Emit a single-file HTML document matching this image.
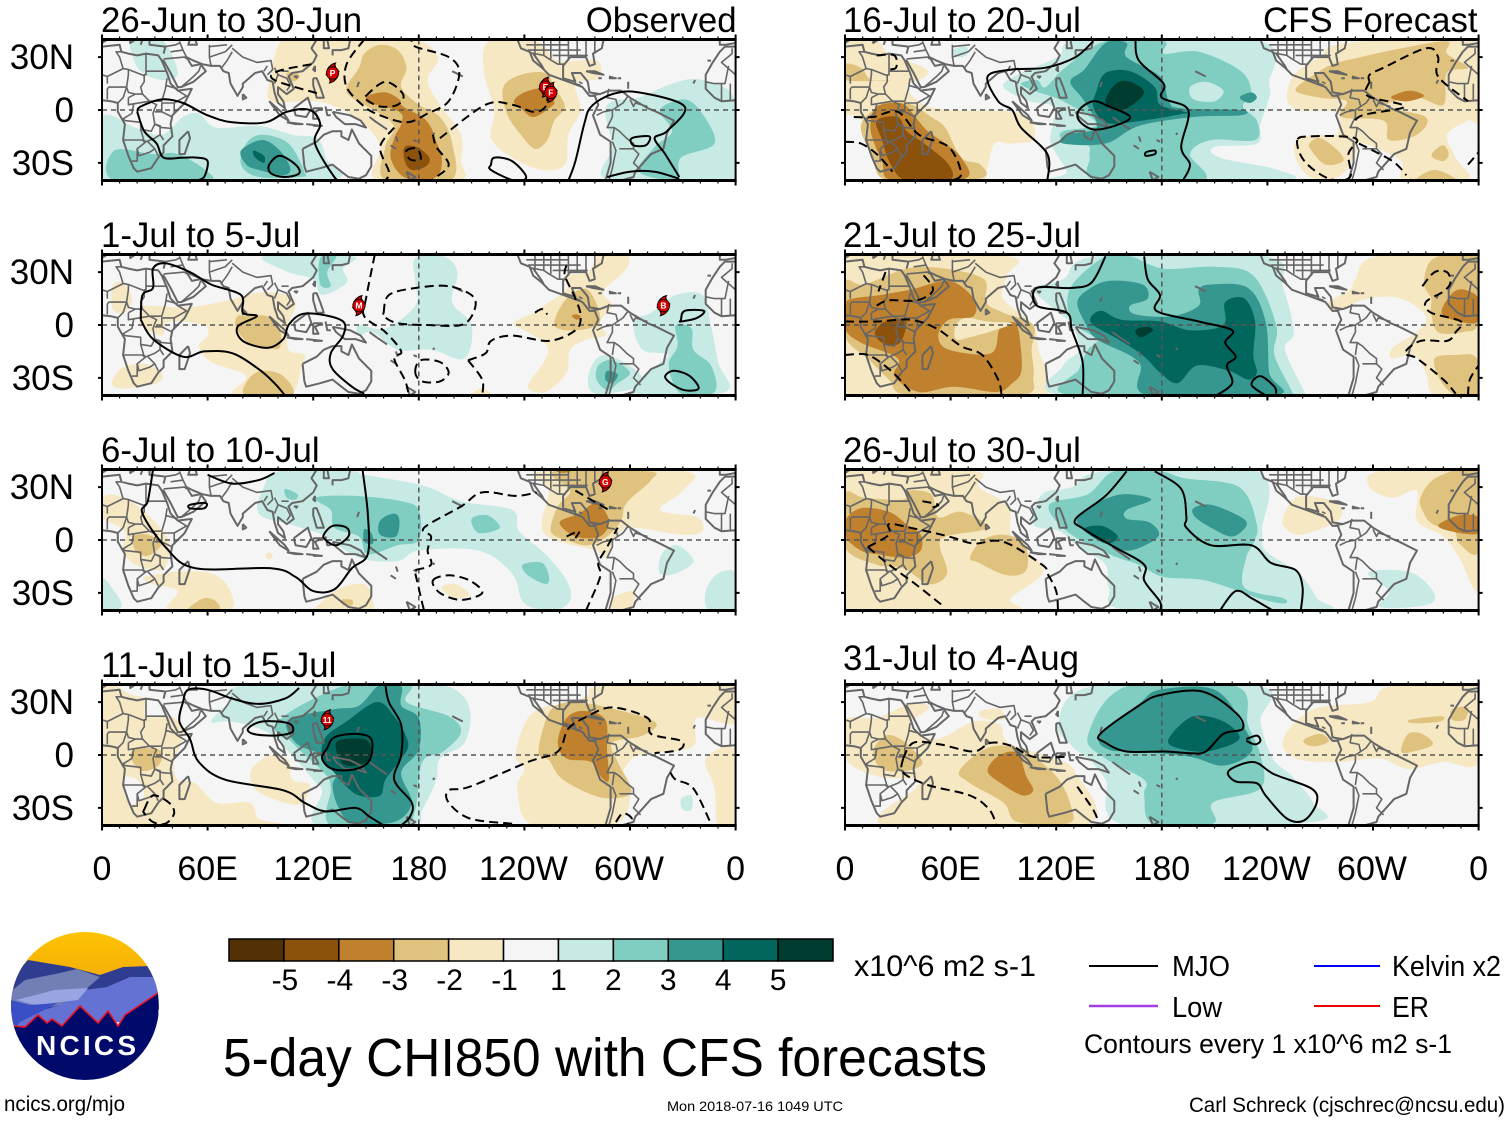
<!DOCTYPE html>
<html lang="en">
<head>
<meta charset="utf-8">
<title>5-day CHI850 with CFS forecasts</title>
<style>
html,body{margin:0;padding:0;background:#fff;}
svg{display:block;font-family:"Liberation Sans",sans-serif;}
</style>
</head>
<body>
<svg id="chart" xmlns="http://www.w3.org/2000/svg" width="1510" height="1121" viewBox="0 0 1510 1121">
  <rect width="1510" height="1121" fill="#fff"/>
  <g id="panels"></g>
  <g id="colorbar"></g>

  <g>
    <defs><clipPath id="logoClip"><circle cx="85" cy="1006" r="74"/></clipPath>
    <linearGradient id="sky" x1="0" y1="0" x2="0" y2="1"><stop offset="0" stop-color="#ffc400"/><stop offset="1" stop-color="#f0a80a"/></linearGradient></defs>
    <g clip-path="url(#logoClip)">
      <rect x="10" y="930" width="150" height="60" fill="url(#sky)"/>
      <path fill="#2f3d90" d="M10 980 L28 960 L70 967 L100 975 L123 967 L150 966 L160 985 L160 1010 L10 1010Z"/>
      <path fill="#717fb4" d="M10 992 L25 980 L60 973 L77 969 L100 977 L85 990 L60 1005 L10 1015Z"/>
      <path fill="#6472d4" d="M85 990 L107 987 L130 977 L157 977 L160 990 L160 1000 L120 1022 L60 1025 L10 1040 L10 1020 L60 1005Z"/>
      <path fill="#99a5e2" d="M16 1000 L55 990 L88 988 L78 1000 L35 1005Z"/>
      <path fill="#3a4ec6" d="M10 1000 L30 1005 L58 1003 L20 1022 L14 1030 L10 1030Z"/>
      <path fill="#000a6a" d="M10 1026 L25 1027 L38 1015 L47 1023 L52 1019 L62 1026 L80 1006 L98 1023 L108 1011 L118 1026 L125 1015 L158 993 L160 1090 L10 1090Z"/>
      <path fill="none" stroke="#ee1122" stroke-width="1.6" d="M14 1026 L25 1027 L38 1015 L47 1023 L52 1019 L62 1026 L80 1006 L98 1023 L108 1011 L118 1026 L125 1015 L158 993"/>
      <text x="86" y="1055" text-anchor="middle" font-size="28" font-weight="700" fill="#fff" textLength="100" lengthAdjust="spacing">NCICS</text>
    </g>
  </g>

  <text x="223" y="1076" font-size="54" textLength="764" lengthAdjust="spacingAndGlyphs">5-day CHI850 with CFS forecasts</text>
  <text x="854" y="976" font-size="30" textLength="182" lengthAdjust="spacingAndGlyphs">x10^6 m2 s-1</text>

  <g>
    <line x1="1089" x2="1158" y1="966" y2="966" stroke="#000" stroke-width="2"/>
    <text x="1172" y="976" font-size="29" textLength="58" lengthAdjust="spacingAndGlyphs">MJO</text>
    <line x1="1314" x2="1380" y1="966" y2="966" stroke="#0000ee" stroke-width="2"/>
    <text x="1392" y="976" font-size="29" textLength="109" lengthAdjust="spacingAndGlyphs">Kelvin x2</text>
    <line x1="1089" x2="1158" y1="1006" y2="1006" stroke="#a040e0" stroke-width="2.5"/>
    <text x="1172" y="1017" font-size="29" textLength="50" lengthAdjust="spacingAndGlyphs">Low</text>
    <line x1="1314" x2="1380" y1="1006" y2="1006" stroke="#ee0000" stroke-width="2"/>
    <text x="1392" y="1017" font-size="29" textLength="37" lengthAdjust="spacingAndGlyphs">ER</text>
    <text x="1084" y="1053" font-size="27" textLength="368" lengthAdjust="spacingAndGlyphs">Contours every 1 x10^6 m2 s-1</text>
  </g>

  <text x="4" y="1111" font-size="21" textLength="121" lengthAdjust="spacingAndGlyphs">ncics.org/mjo</text>
  <text x="667" y="1111" font-size="14" textLength="176" lengthAdjust="spacingAndGlyphs">Mon 2018-07-16 1049 UTC</text>
  <text x="1189" y="1112" font-size="21" textLength="316" lengthAdjust="spacingAndGlyphs">Carl Schreck (cjschrec@ncsu.edu)</text>
</svg>

<script>
// ---------- chart data ----------
const panelTitles = ['26-Jun to 30-Jun','1-Jul to 5-Jul','6-Jul to 10-Jul','11-Jul to 15-Jul','16-Jul to 20-Jul','21-Jul to 25-Jul','26-Jul to 30-Jul','31-Jul to 4-Aug'];
const xTickValues = [0,60,120,180,240,300,360];
const xTickLabels = ['0','60E','120E','180','120W','60W','0'];
const yTickValues = [30,0,-30];
const yTickLabels = ['30N','0','30S'];
const colorbarLevels = [-6,-5,-4,-3,-2,0,2,3,4,5,6];
const colorbarLabels = ['-5','-4','-3','-2','-1','1','2','3','4','5'];
const levelKeys = [-5,-4,-3,-2,-1,0,1,2,3,4,5];
const levelColors = ['#543005','#8c510a','#bf812d','#dfc27d','#f6e8c3','#f5f5f5','#c7eae5','#80cdc1','#35978f','#01665e','#003c30'];

// Filled anomaly regions: [level, [lon,lat,...]] painted in order.
const fillsP1 = [
[-1,[100,36,108,40,149,40,178,40,191,30,185,17,192,3,204,-14,204,-29,203,-40,156,-40,158,-21,149,-8,137,0,122,5,96,5,96,19]],
[-2,[149,32,158,37,168,34,173,24,170,13,180,3,192,-4,199,-19,198,-40,161,-40,161,-21,166,-10,158,-2,142,7,139,13,146,24]],
[-2,[105,21,111,21,112,18,107,16]],
[-3,[151,8,161,10,169,6,171,2,182,-4,187,-10,190,-18,193,-27,191,-37,180,-40,170,-37,164,-27,166,-16,170,-8,170,-2,161,2,151,4]],
[-4,[172,-21,179,-21,186,-27,184,-32,176,-34,172,-29]],
[-1,[220,39,247,39,259,28,281,28,282,18,269,15,272,0,265,-14,263,-31,250,-34,233,-27,221,-16,223,0,217,22]],
[-2,[228,13,238,20,252,21,257,13,263,2,257,-6,253,-17,246,-22,238,-14,230,-2]],
[-3,[234,5,240,10,251,12,257,5,254,1,245,-4,238,1]],
[1,[0,-4,19,-10,34,-14,46,-4,55,-2,65,-10,89,-9,108,-14,122,-16,127,-27,127,-40,0,-40]],
[1,[17,40,34,40,43,21,34,17,22,22,17,32]],
[2,[7,-23,29,-25,43,-25,60,-35,58,-40,7,-40]],
[2,[82,-19,91,-14,106,-19,115,-35,113,-38,89,-38,79,-31]],
[3,[79,-23,91,-17,101,-23,107,-33,103,-37,89,-34,82,-31]],
[4,[86,-23,92,-26,92,-30,87,-27]],
[1,[286,-2,290,5,305,7,324,15,341,17,360,5,360,-40,288,-40,290,-21]],
[2,[317,0,331,6,341,-2,348,-19,329,-27,326,-39,305,-35,314,-21,324,-12]]
];
const fillsP2 = [
[-1,[6,22,12,24,17,15,13,7,6,9]],
[-1,[24,11,48,10,72,14,86,18,101,18,110,13,106,0,106,-14,115,-17,113,-25,106,-40,74,-40,82,-29,62,-21,55,-12,60,-6,58,0,38,2,34,-6,22,0,23,7]],
[-2,[77,5,82,5,94,5,101,-2,101,-13,95,-13,83,-10,76,-1]],
[-2,[83,-31,91,-26,103,-29,108,-40,82,-40]],
[-1,[6,-31,12,-24,24,-22,34,-27,31,-33,14,-36,7,-35]],
[-1,[210,-40,215,-36,221,-39]],
[-1,[234,1,245,7,254,13,264,20,264,28,276,30,283,40,298,40,298,32,285,19,290,11,283,2,286,-6,276,-8,266,-14,264,-27,252,-38,242,-35,251,-21,253,-12,242,-4]],
[-2,[257,0,264,15,276,20,283,2,269,-3]],
[-3,[269,6,272,5,270,3,267,5]],
[1,[92,39,142,39,137,32,139,24,125,17,120,26,106,30]],
[2,[124,38,133,39,128,30,130,22,124,23]],
[1,[178,38,194,39,202,30,199,13,210,0,206,-19,187,-14,168,-14,154,-4,146,-6,146,0,161,-2,178,11,178,24]],
[1,[302,2,312,7,326,17,341,17,346,0,350,-21,354,-38,305,-39,307,-29,322,-17,307,-14]],
[1,[281,-19,290,-18,305,-27,305,-35,281,-39,276,-31]],
[2,[282,-23,290,-20,300,-27,293,-33,287,-37,281,-31]],
[3,[287,-26,293,-28,290,-33,286,-31]],
[2,[326,0,335,-2,336,-14,346,-23,348,-38,329,-39,322,-23,327,-12]]
];
const fillsP3 = [
[1,[92,30,101,39,142,39,149,37,182,31,204,22,233,17,237,5,252,-8,264,-23,266,-34,257,-40,240,-36,233,-19,214,-6,180,-6,168,-12,146,-10,125,3,106,9,89,15]],
[2,[104,29,111,26,110,23,105,24]],
[2,[121,24,144,25,170,22,180,17,180,0,168,-3,151,-8,146,2,132,7,130,17]],
[3,[158,11,166,15,169,11,167,2,158,3]],
[3,[149,6,153,4,154,-2,149,-1]],
[2,[210,12,219,14,226,7,214,4]],
[2,[239,-14,250,-13,254,-21,252,-25,242,-20]],
[1,[318,-8,327,-3,336,-12,326,-19,317,-19]],
[1,[343,-29,350,-19,360,-19,360,-40,345,-40]],
[1,[0,-22,7,-29,11,-38,0,-40]],
[-1,[0,24,10,25,23,17,37,2,38,-8,34,-17,19,-14,12,-6,13,5,0,13]],
[-2,[18,2,26,3,34,-2,26,-9,19,-6]],
[-1,[24,-21,43,-18,62,-19,72,-27,72,-40,38,-40,43,-29,29,-25]],
[-2,[50,-38,58,-33,65,-35,66,-40,50,-40]],
[-1,[95,-7,97,-9,95,-11,93,-9]],
[-1,[122,-38,134,-28,149,-25,154,-35,151,-40,122,-40]],
[-2,[136,-34,142,-34,142,-37,137,-37]],
[-1,[194,-26,201,-25,209,-31,201,-33,194,-29]],
[-1,[250,11,254,28,250,39,331,39,330,28,317,17,338,13,341,5,329,3,302,7,293,3,286,-10,281,-6,264,-2,252,3]],
[-2,[255,5,259,19,266,28,257,39,310,39,312,34,298,21,295,11,287,2,276,-3,264,0]],
[-3,[260,10,271,15,281,21,288,11,283,2,269,2]],
[-3,[257,40,268,40,262,38]],
[-1,[290,-33,302,-29,300,-39,290,-39]]
];
const fillsP4 = [
[1,[62,19,72,30,79,39,142,39,178,39,199,38,209,26,206,7,192,-2,190,-14,182,-31,175,-40,122,-40,125,-21,120,-14,106,2,94,13,74,19]],
[2,[98,15,106,24,129,36,144,40,175,40,173,30,197,22,204,13,194,2,182,-4,178,-31,170,-40,130,-40,130,-19,127,-11,113,2,106,9]],
[3,[106,20,132,26,146,28,158,40,170,39,170,28,180,21,180,3,170,-10,176,-27,166,-38,142,-38,134,-29,131,-17,134,-9,125,0,110,7]],
[4,[127,10,139,19,156,30,166,22,174,7,170,-2,161,-14,158,-23,146,-23,137,-16,132,-10,125,-2]],
[5,[134,8,149,9,153,3,151,-4,139,-6,134,0]],
[1,[329,-25,335,-23,335,-31,330,-31]],
[-1,[0,35,17,34,25,31,25,22,41,21,46,11,41,-4,43,-14,53,-16,65,-27,84,-27,89,-36,102,-39,100,-40,0,-40]],
[0,[12,-13,20,-14,24,-23,17,-28,13,-23]],
[-1,[85,-8,96,0,106,-3,108,-14,118,-17,112,-28,95,-24,86,-18]],
[-2,[17,2,24,4,34,2,32,-6,23,-9,17,-3]],
[-1,[235,0,242,21,254,28,264,28,276,34,285,39,360,39,360,18,338,21,336,5,314,1,301,-2,293,-18,300,-24,290,-40,245,-40,236,-19,240,-8]],
[-1,[343,-2,360,2,360,-40,350,-40,348,-19]],
[-2,[248,2,254,24,264,30,275,29,283,28,314,19,307,11,290,7,293,-4,300,-17,299,-23,283,-24,262,-14,254,-3]],
[-3,[259,7,264,21,274,25,286,20,287,2,288,-14,284,-13,278,-4,264,-2]]
];
const fillsP5 = [
[-1,[0,39,18,39,25,32,45,24,46,19,35,13,45,3,61,0,100,-2,108,-16,95,-19,85,-19,80,-35,72,-40,0,-40]],
[0,[0,-5,12,-8,20,-25,27,-40,0,-40]],
[-2,[0,26,9,24,15,17,26,17,0,17]],
[-2,[16,0,26,5,38,3,49,-4,57,-10,66,-27,77,-31,76,-39,25,-40,16,-27,9,-10]],
[-3,[18,2,26,4,34,3,40,-4,47,-12,57,-19,66,-27,68,-39,27,-40,21,-29,15,-14,15,-4]],
[-4,[18,-6,30,-4,35,-12,45,-19,59,-31,59,-40,35,-40,26,-31,21,-17]],
[1,[90,13,98,20,121,30,136,40,236,39,241,15,241,7,236,-8,234,-19,210,-21,213,-27,246,-34,246,-40,123,-40,126,-35,117,-19,118,-8,119,2,105,5]],
[1,[61,34,69,36,69,31,63,30]],
[2,[125,24,148,39,181,39,181,32,201,33,225,22,231,9,226,2,234,-6,233,-17,208,-17,196,-25,203,-40,143,-40,139,-27,138,-20,124,-17,124,-12,143,-8,124,5,107,11,100,15,109,17,114,13]],
[1,[196,13,205,16,215,11,210,5,198,6]],
[3,[128,16,136,23,148,38,160,38,160,30,179,19,184,5,191,1,225,0,225,-3,198,-4,167,-9,148,-19,124,-19,126,-14,143,-10,136,5]],
[4,[143,11,148,21,162,22,176,13,179,3,193,-1,193,-2,162,-7,148,-7,141,2]],
[5,[148,5,154,15,162,16,170,10,162,2,155,0]],
[3,[225,8,231,10,234,7,230,4,225,6]],
[-1,[251,7,256,21,270,30,285,38,360,39,360,-4,354,-6,342,-14,347,-27,354,-40,318,-40,316,-29,295,-19,280,-19,280,-2,258,0]],
[-1,[257,-17,270,-14,290,-17,287,-31,278,-39,264,-38,256,-27]],
[-2,[264,-19,270,-16,280,-23,283,-29,273,-31,265,-23]],
[-2,[256,11,265,19,277,26,293,30,316,35,342,39,342,32,354,24,342,21,340,3,325,7,306,2,330,-4,325,-14,309,-17,306,-6,282,-4,285,5,270,7]],
[-3,[311,8,321,11,329,8,320,5,312,6]],
[-2,[334,-24,340,-20,343,-25,340,-29,334,-27]],
[-2,[325,-40,335,-34,347,-40]]
];
const fillsP6 = [
[-1,[0,39,92,39,92,28,90,15,107,0,110,-14,115,-30,107,-40,0,-40]],
[-2,[0,24,11,23,35,32,57,32,79,26,80,13,90,7,107,0,106,-14,107,-29,100,-40,37,-40,25,-31,13,-19,0,-6]],
[-3,[0,13,20,17,37,20,59,25,73,15,73,5,59,3,53,-6,59,-14,83,-16,88,-2,97,1,100,-14,100,-27,95,-33,86,-38,62,-35,42,-38,28,-29,30,-19,9,-10,0,-2]],
[-1,[63,0,69,4,81,2,95,1,85,-3,71,-7,63,-8]],
[-4,[17,-4,23,2,34,3,34,-4,30,-11,21,-10]],
[1,[107,21,124,26,143,39,239,39,249,21,255,-4,250,-14,261,-38,260,-40,124,-40,124,-23,133,-14,129,0,124,5,114,13]],
[2,[128,21,148,39,162,39,181,32,210,33,232,28,245,0,244,-17,254,-38,252,-40,129,-40,133,-25,138,-14,143,-8,129,2]],
[3,[132,13,138,20,150,25,169,23,172,15,162,11,165,6,186,5,201,11,201,20,208,23,229,21,239,2,241,-27,245,-40,172,-40,167,-21,143,-8,136,2]],
[4,[140,5,146,8,157,3,179,2,196,-3,215,0,216,13,227,15,233,2,232,-17,234,-27,229,-31,218,-26,200,-23,189,-33,179,-27,169,-17,155,-8,141,0]],
[5,[165,-3,171,-1,175,-3,168,-7]],
[-1,[290,26,302,39,360,39,360,-40,335,-40,330,-27,323,-17,311,-19,311,-13,325,-4,330,5,316,15,297,15,278,8,275,13,287,20]],
[-2,[329,24,335,38,360,39,360,2,351,-4,337,-4,333,7,333,15]],
[-3,[345,18,352,20,360,15,360,2,349,2,339,7]],
[-2,[335,-19,347,-17,359,-19,360,-40,347,-40,338,-31]]
];
const fillsP7 = [
[-1,[0,39,73,39,76,30,93,19,95,1,113,-17,94,-33,94,-40,0,-40]],
[-2,[0,26,11,24,33,23,36,28,49,26,53,13,66,16,81,7,57,2,54,-4,58,-19,48,-25,33,-16,18,-14,0,-4]],
[-2,[71,-10,78,0,90,3,102,-2,103,-17,92,-20,76,-13]],
[-3,[0,11,9,18,25,16,36,8,43,3,43,-6,34,-10,18,-8,9,-6,0,2]],
[-1,[298,30,304,39,360,39,360,-27,349,-10,340,2,325,11,325,28,311,24]],
[-2,[327,24,337,36,360,38,360,-6,349,-2,346,5,334,9,329,15]],
[-3,[337,8,349,14,360,13,360,4,349,4]],
[-1,[249,13,256,24,270,24,281,20,280,11,259,3,250,7]],
[1,[107,9,112,26,129,30,148,39,234,39,237,5,239,-6,258,-19,268,-33,270,-40,162,-40,150,-27,148,-14,133,-4,122,5]],
[2,[116,20,138,26,153,39,179,39,193,35,224,30,234,9,232,-2,228,-10,227,-27,249,-33,249,-36,235,-33,205,-23,181,-21,167,-14,150,-8,126,5]],
[3,[132,12,143,21,158,26,174,23,160,17,160,12,173,10,178,2,162,-6,149,-2,136,5]],
[4,[136,6,146,8,155,2,148,-2]],
[3,[198,18,208,20,225,13,228,8,220,2,208,7,199,13]],
[1,[297,-19,311,-17,325,-20,335,-31,330,-37,304,-38,309,-29]]
];
const fillsP8 = [
[-1,[0,20,18,21,37,29,48,27,37,17,52,9,73,19,88,17,93,7,119,-2,131,-10,136,-40,23,-40,40,-19,42,-14,18,-12,0,-2]],
[-1,[77,25,88,26,90,20,78,21]],
[-2,[16,2,23,11,33,8,44,-4,35,-9,21,-8]],
[-2,[65,-9,81,4,100,3,120,-12,129,-31,126,-39,98,-38,90,-27,71,-16]],
[-3,[81,-9,88,0,98,1,103,-12,107,-20,101,-23,90,-17]],
[-1,[249,9,266,26,298,30,310,39,360,39,360,-4,340,-4,320,-8,304,-2,280,-4,256,-2]],
[-2,[345,26,354,27,352,20,345,20]],
[-2,[261,9,270,12,275,8,268,5,262,6]],
[-2,[316,2,320,12,328,12,334,6,323,2]],
[-2,[321,20,339,22,338,19,323,18]],
[1,[121,18,141,39,236,39,236,19,243,-2,254,-12,266,-27,266,-38,160,-40,148,-14,138,-2,129,5]],
[2,[138,11,160,39,222,39,229,17,236,0,236,-19,209,-27,209,-39,175,-39,170,-23,170,-14,148,-2]],
[3,[145,11,167,29,179,37,210,37,226,17,231,2,215,-6,196,-1,167,2,150,3]],
[4,[185,11,198,22,215,19,224,9,205,2,186,5]]
];
const panelFills = [fillsP1,fillsP2,fillsP3,fillsP4,fillsP5,fillsP6,fillsP7,fillsP8];

// Solid (positive) MJO contours; a repeated first point closes the loop.
const solidP1 = [
[20,-1,22,2,34,6,46,4,60,-3,74,-7,93,-7,105,-1,118,0,124,-8,121,-19,132,-38,136,-40],
[20,-1,24,-12,31,-19,35,-27,46,-27,54,-27,60,-29,58,-38,53,-40],
[95,-31,101,-26,110,-31,112,-36,104,-38,96,-36,95,-31],
[221,-31,223,-27,233,-29,241,-38,234,-40,221,-34,221,-31],
[265,-40,269,-29,274,-8,278,2,290,9,305,10,331,2,321,-12,314,-16,320,-25,328,-38],
[287,-38,300,-35,314,-35,328,-39],
[301,-16,311,-15,309,-20,302,-20,301,-16]
];
const solidP2 = [
[22,3,23,17,29,21,29,32,36,35,50,30,62,23,79,17,80,7,88,5,77,-1,80,-9,94,-13,103,-8,106,0,113,6,124,6,137,2,137,-6,130,-16,131,-25,142,-35,149,-39],
[22,3,29,-8,46,-18,58,-15,74,-16,89,-25,98,-33,104,-40],
[320,-29,325,-26,334,-29,339,-36,331,-37,323,-33,320,-29],
[329,3,331,8,342,8,338,4,329,2,329,3]
];
const solidP3 = [
[29,40,26,22,23,15,36,-4,53,-16,96,-16,110,-21,120,-29,132,-28,142,-16,151,-8,151,15,148,40],
[60,37,74,32,89,34,98,38],
[50,20,59,21,58,18,50,18,50,20],
[126,3,131,8,139,7,140,2,133,-3,127,0,126,3]
];
const solidP4 = [
[112,38,104,32,89,29,74,32,60,37,49,37,46,30,44,19,50,9,55,-4,70,-14,103,-20,115,-27,127,-32,144,-30,152,-35,160,-40],
[161,40,163,30,170,17,170,0,166,-14,176,-27,175,-35,170,-40],
[83,15,91,19,106,18,108,13,98,11,86,12,83,15],
[128,4,132,10,144,12,153,9,152,-3,144,-8,131,-8,125,-2,128,4]
];
const solidP5 = [
[115,-40,115,-25,100,-10,95,0,87,5,81,19,95,23,114,24,131,30,141,39],
[165,40,167,28,181,15,180,7,195,0,191,-21,196,-31,192,-40],
[133,0,141,5,150,2,162,-4,153,-9,141,-11,133,-6,133,0],
[171,-24,176,-23,176,-25,171,-26,171,-24]
];
const solidP6 = [
[148,39,140,24,128,21,109,21,109,11,126,7,129,-3,135,-21,135,-40],
[170,39,172,26,179,17,177,8,201,2,220,-3,216,-10,222,-18,217,-23,220,-33,211,-40],
[239,-40,231,-34,236,-29,244,-35,245,-39]
];
const solidP7 = [
[160,39,148,25,131,12,136,6,153,-4,170,-14,170,-23,179,-35,179,-40],
[176,39,191,29,194,13,194,7,208,-3,231,-3,242,-13,256,-17,260,-27,259,-40],
[213,-40,222,-29,231,-33,243,-40]
];
const solidP8 = [
[145,12,167,28,179,34,203,36,222,24,226,15,215,12,205,2,196,1,182,2,160,2,148,7,145,12],
[228,9,234,11,236,8,233,6,228,8],
[218,-9,232,-4,244,-11,265,-19,268,-27,261,-37,251,-36,239,-23,234,-16,222,-15,218,-9]
];
const panelSolid = [solidP1,solidP2,solidP3,solidP4,solidP5,solidP6,solidP7,solidP8];

// Dashed (negative) contours.
const dashedP1 = [
[149,40,139,26,139,13,149,2,158,-3,173,-7,185,-2,197,5,203,21,197,30,178,36,176,40],
[150,8,161,16,171,9,168,3,158,2,150,6,150,8],
[119,26,100,22,98,17,124,9],
[192,-16,218,3,233,3,245,-1,252,2,253,12,250,20],
[166,-10,158,-21,163,-35,161,-40],
[188,-14,190,-21,197,-31,190,-38,187,-40],
[173,-23,179,-22,181,-28,175,-28,173,-23]
];
const dashedP2 = [
[155,40,150,15,149,5,161,-4,170,-15,166,-19,172,-31,174,-38],
[160,7,163,17,178,21,197,22,211,16,211,7,204,0,185,0,168,1,160,5,160,7],
[178,-27,181,-20,192,-21,197,-27,192,-32,182,-32,178,-27],
[208,-20,218,-16,221,-9,233,-6,254,-9,269,-3,272,5,269,15,263,28,264,34],
[208,-20,216,-31,216,-40],
[246,7,250,9,253,6]
];
const dashedP3 = [
[178,-17,187,-14,185,-6,187,2,183,7,204,19,216,27,235,25,247,27],
[178,-19,182,-36,183,-40],
[188,-23,197,-20,209,-23,216,-30,204,-34,192,-30,188,-23],
[275,-40,283,-21,282,-13,287,-4,293,7],
[264,2,271,5,269,1],
[269,28,288,17]
];
const dashedP4 = [
[24,-31,29,-23,38,-27,41,-33,36,-39,29,-38,24,-33,24,-31],
[233,-39,209,-36,197,-27,197,-20,209,-18,242,-4,259,2,265,15,276,22,290,27,310,21,312,12,329,8,328,3,314,1],
[323,-10,326,-14,336,-19,346,-39],
[292,-38,296,-33,301,-36,298,-40]
];
const dashedP5 = [
[257,-17,261,-29,275,-39,287,-38,286,-25,291,-17,282,-15,265,-15,257,-17],
[292,-19,311,-29,319,-37],
[298,16,298,20,306,24,330,35,337,30,337,19,354,5],
[298,16,297,8,318,2,294,-3,289,-8],
[18,31,28,31,29,24,23,23],
[5,-4,16,-4,30,-1,42,-14,59,-21,66,-36,61,-40],
[0,-18,9,-19,18,-25,27,-35],
[354,-31,360,-24]
];
const dashedP6 = [
[328,22,335,30,342,30,344,24,340,19,330,13,333,7,350,2,347,-4,342,-9,327,-9,318,-16,325,-19,340,-31,347,-39],
[354,-40,355,-31,360,-23],
[0,2,18,2,37,3,52,-2,66,-12,78,-17,87,-31,89,-40],
[0,-17,13,-17,25,-25,33,-33,38,-39],
[18,11,25,14,41,14,50,20,44,29],
[23,30,19,19]
];
const dashedP7 = [
[13,-4,25,-14,40,-25,54,-36,56,-37],
[13,-4,25,3,25,9,37,7,59,2,73,-2,90,-1,112,-14,115,-19,120,-29,121,-40],
[44,22,53,20,48,18]
];
const dashedP8 = [
[33,-2,33,-10,47,-17,71,-23,82,-31,86,-40],
[33,-2,39,7,54,6,73,2,83,7,95,5,107,-1,126,-1],
[132,-18,141,-31,144,-38]
];
const panelDashed = [dashedP1,dashedP2,dashedP3,dashedP4,dashedP5,dashedP6,dashedP7,dashedP8];

// Tropical cyclone markers: panel index, symbol, lon, lat.
const stormPanels = [0,0,0,1,1,2,3];
const stormLabels = ['P','E','F','M','B','G','11'];
const stormLons = [131,252,255,146,319,286,128];
const stormLats = [21,13,10,11,11,33,20];

// Coastlines and borders in lon,lat.
const coastLines = [
[0,36,10,37,11,33,15,32,20,31,25,32,32,31,34,28,37,21,39,15,43,11,51,12,47,4,40,-3,39,-8,40,-15,35,-20,35,-24,32,-27,28,-33,20,-35,18,-33,15,-26,12,-17,13,-8,9,-1,9,4,5,5,0,5.5],
[360,5.5,352,5,348,7,343,12,343,20,347,27,351,33,354,36,360,36],
[49,-12,50,-16,47,-25,44,-25,44,-17,49,-12],
[34,28,35,28,39,21,43,13,45,13,52,16,59,22,56,26,51,25,48,30,52,28,57,26,62,25,67,25,69,22,72,21,73,15,77,8,80,13,80,15,87,21,91,22,94,17,97,16,98,10,100,4,104,1,103,5,100,9,100,13,105,9,109,12,106,19,108,21,114,22,120,27,122,31,119,35,122,40],
[360,38,354,37,351,37,351,40],[0,38,3,40],
[16,40,16,38,19,40],[22,37,23,40],[27,40,27,37,36,36,35,32],[50,40,49,37,54,37,53,40],
[126,40,126,35,129,35,128,40],[131,31,131,34,136,34,140,35,141,40],[121,25,121,22,120,23,121,25],
[120,18,122,18,124,13,126,7,122,7,120,14,120,18],[109,1,117,7,119,1,116,-4,110,-3,109,1],
[95,5,104,-3,106,-6,101,-3,95,5],[105,-7,114,-8,110,-8,105,-7],[116,-8,125,-9,120,-9],
[120,1,125,1,121,-1,123,-5,120,-5,120,1],[127,2,128,-3,130,-3],
[131,-1,141,-3,147,-6,150,-10,144,-8,138,-8,133,-4,131,-1],
[114,-22,122,-18,126,-14,131,-12,136,-12,136,-15,140,-17,142,-11,146,-19,153,-26,153,-32,150,-37,146,-39,140,-38,136,-35,131,-31,124,-33,116,-35,115,-32,114,-22],
[173,-35,178,-38,175,-40,173,-35],[80,9,82,7,80,6,80,9],[109,19,111,19,110,18],
[152,-4,156,-7],[156,-7,162,-11],[167,-15,168,-18],[164,-20,167,-22],[177,-17,179,-18],[145,13,146,16],[199,22,205,19],[189,-13,188,-14],
[236,40,238,35,243,33,245,28,250,24,254,20,265,16,273,13,277,8,280,8,282,3,279,-3,283,-14,289,-18,289,-30,286,-40],
[295,-40,302,-38,303,-35,312,-25,319,-22,321,-13,325,-6,315,-1,310,1,300,7,295,11,288,11,283,9,277,10,276,16,272,21,267,21,269,16,262,18,262,25,266,30,275,30,277,25,280,26,279,32,284,35,285,40],
[245,32,250,25,251,23],
[275,22,280,22,285,20,279,21,275,22],[288,19,292,18,288,18],[282,18,284,18],[293,18,295,18],[299,16,299,12],[336,15,337,17],[344,28,346,28]
];
const borderLines = [
[25,32,25,20,24,20,24,16,22,13,23,9],[25,22,37,22],[3,19,12,23.5,10,30,8,33,11,33],[3,19,0,20],[360,20,352,27,358,32,358,35],
[3,15,3,19],[12,23.5,15,23,15,20,14,13,4,13,3,12],[15,23,24,19.5],[23,9,19,9,15,10,14,13],[23,9,27,5,34,5,36,12,37,18],
[15,7,19,9],[15,7,15,3,18,3.5,27,5],[18,3.5,17,-2,12,-5,13,-6,22,-7,22,-11,28,-12,30,-8,29,-2,30,1,31,3,27,5],
[12,-17,23,-17,24,-18,22,-11],[17,-29,20,-29,20,-22,25,-18,23,-17],[20,-22,21,-26,27,-24,30,-22,26,-18],
[25,-18,30,-16,33,-14,33,-9,30,-8],[30,-22,32,-26],[33,-14,35,-17],[30,-8,34,-10,40,-10.5],[30,-1,34,-1,40,-4],[34,-1,34,4,41,4,41,-2],
[41,4,48,8,43,11],[36,14,43,12],[343,16,348,15,354,15,356,25],[352,15,352,5],[357,15,357,5],[3,12,3,6],[9,4,12,7,14,13],
[35,29,47,30,48,29],[45,13,52,19,55,22,56,25],[39,33,46,34,48,30],[44,39,46,34],[61,37,61,30,62,25],[61,30,70,33,74,37],[61,36,71,37],
[68,24,71,28,74,33],[74,35,80,30,88,27,96,28,97,23,94,20],[92,22,94,25],[98,24,100,20,98,15],[100,20,105,18,107,14,105,11],[102,22,106,22],[36,36,42,37,44,38],
[288,12,287,7,292,6,293,2,290,0,285,-1,281,-3],[293,2,296,4,299,8],[300,6,302,2,303,4,310,2],[290,0,290,-4,287,-10,291,-10,294,-12,298,-16,302,-19,302,-22,305,-25,302,-30,306,-34],
[290,-18,292,-23,290,-33,288,-40],[294,-22,302,-22],[291,-10,290,-17],
[243,32.5,251,31,254,29,259,26,263,26],[241,37,265,37],[246,31,246,40],[251,31,251,40],[255,29,255,40],[260,26,260,40],[265,28,265,40],[270,30,270,40],[275,30,275,40],[280,32,280,40],[242,34,272,34],[256,31,276,31],
[268,18,269,15,272,14],[271,16,273,15],[277,8,283,9]
];

// ---------- axis functions ----------
const NS = 'http://www.w3.org/2000/svg';
const panelLefts = [102,102,102,102,845,845,845,845];
const panelMidlines = [110,325,540,755,110,325,540,755];
const PXDEG_X = 633.6/360, PXDEG_Y = 70.5/40;
function xOf(lon,i){ return panelLefts[i] + lon*PXDEG_X; }
function yOf(lat,i){ return panelMidlines[i] - lat*PXDEG_Y; }
function make(tag,attrs,parent){
  const el = document.createElementNS(NS,tag);
  for(const k in attrs) el.setAttribute(k,attrs[k]);
  parent.appendChild(el);
  return el;
}
function linearPath(arr,i){
  let d='';
  for(let k=0;k<arr.length;k+=2){ d+=(k?'L':'M')+xOf(arr[k],i).toFixed(1)+' '+yOf(arr[k+1],i).toFixed(1); }
  return d;
}
function splinePath(arr,i,closed){
  const p=[];
  for(let k=0;k<arr.length;k+=2) p.push([xOf(arr[k],i),yOf(arr[k+1],i)]);
  if(closed && arr[0]===arr[arr.length-2] && arr[1]===arr[arr.length-1]) p.pop();
  const n=p.length;
  const at=j=> closed ? p[(j+n)%n] : p[Math.max(0,Math.min(n-1,j))];
  let d='M'+p[0][0].toFixed(1)+' '+p[0][1].toFixed(1);
  const segs=closed?n:n-1;
  for(let j=0;j<segs;j++){
    const a=at(j-1),b=at(j),c=at(j+1),e=at(j+2);
    const c1x=b[0]+(c[0]-a[0])/6,c1y=b[1]+(c[1]-a[1])/6,c2x=c[0]-(e[0]-b[0])/6,c2y=c[1]-(e[1]-b[1])/6;
    d+='C'+c1x.toFixed(1)+' '+c1y.toFixed(1)+' '+c2x.toFixed(1)+' '+c2y.toFixed(1)+' '+c[0].toFixed(1)+' '+c[1].toFixed(1);
  }
  return d+(closed?'Z':'');
}
function isLoop(a){ return a.length>4 && a[0]===a[a.length-2] && a[1]===a[a.length-1]; }

// ---------- build panels ----------
const root = document.getElementById('panels');
const titleBaselines = [32,247,462,677,32,247,462,670];
const W = 360*PXDEG_X;

panelTitles.forEach(function(title,i){
  const g = make('g',{},root);
  
  
  const x0 = xOf(0,i), x1 = xOf(360,i), yT = yOf(40,i), yB = yOf(-40,i);

  const defs = make('defs',{},g);
  const cp = make('clipPath',{id:'clip'+i},defs);
  make('rect',{x:x0,y:yT,width:W,height:yB-yT},cp);

  const body = make('g',{'clip-path':'url(#clip'+i+')'},g);
  const bg = make('rect',{x:x0,y:yT,width:W,height:yB-yT,fill:levelColors[5]},body);
  
  

  panelFills[i].forEach(function(f){
    const path = make('path',{d:splinePath(f[1],i,true),fill:levelColors[levelKeys.indexOf(f[0])],stroke:'none'},body);
    
    
  });

  coastLines.forEach(function(c){
    const path = make('path',{d:linearPath(c,i),fill:'none',stroke:'#666','stroke-width':2,'stroke-linejoin':'round'},body);
    
    
  });
  borderLines.forEach(function(c){
    const path = make('path',{d:linearPath(c,i),fill:'none',stroke:'#666','stroke-width':1.6,'stroke-linejoin':'round'},body);
    
    
  });

  const eq = make('line',{x1:x0,x2:x1,y1:yOf(0,i),y2:yOf(0,i),stroke:'#555','stroke-width':1.5,'stroke-dasharray':'5 4'},body);
  
  
  const dl = make('line',{x1:xOf(180,i),x2:xOf(180,i),y1:yT,y2:yB,stroke:'#555','stroke-width':1.5,'stroke-dasharray':'5 4'},body);
  
  

  panelSolid[i].forEach(function(c){
    const path = make('path',{d:splinePath(c,i,isLoop(c)),fill:'none',stroke:'#000','stroke-width':2},body);
    
    
  });
  panelDashed[i].forEach(function(c){
    const path = make('path',{d:splinePath(c,i,isLoop(c)),fill:'none',stroke:'#000','stroke-width':2,'stroke-dasharray':'9 5'},body);
    
    
  });

  stormPanels.forEach(function(sp,k){
    if(sp!==i) return;
    const cx = xOf(stormLons[k],i), cy = yOf(stormLats[k],i);
    const s = make('g',{},g);
    
    
    make('path',{d:'M'+(cx-5)+' '+(cy-4)+'Q'+(cx-2)+' '+(cy-9)+' '+(cx+3)+' '+(cy-10)+'Q'+(cx+1)+' '+(cy-7)+' '+(cx+6)+' '+(cy-2)+'Z',fill:'#d40000',stroke:'#000','stroke-width':1},s);
    make('path',{d:'M'+(cx+5)+' '+(cy+4)+'Q'+(cx+2)+' '+(cy+9)+' '+(cx-3)+' '+(cy+10)+'Q'+(cx-1)+' '+(cy+7)+' '+(cx-6)+' '+(cy+2)+'Z',fill:'#d40000',stroke:'#000','stroke-width':1},s);
    make('circle',{cx:cx,cy:cy,r:6.2,fill:'#d40000',stroke:'#000','stroke-width':0.8},s);
    const t = make('text',{x:cx,y:cy+3,'text-anchor':'middle','font-size':8.5,'font-weight':700,fill:'#fff'},s);
    t.textContent = stormLabels[k];
  });

  const frame = make('rect',{x:x0,y:yT,width:W,height:yB-yT,fill:'none',stroke:'#000','stroke-width':2},g);
  
  
  const edgeTop = make('line',{x1:x0-1,x2:x1+1,y1:yT,y2:yT,stroke:'#000','stroke-width':3},g);
  
  
  const edgeBottom = make('line',{x1:x0-1,x2:x1+1,y1:yB,y2:yB,stroke:'#000','stroke-width':3},g);
  
  

  for(let lon=0;lon<=360;lon+=10){
    const len = lon%60===0 ? 5 : 3;
    const tt = make('line',{x1:xOf(lon,i),x2:xOf(lon,i),y1:yT,y2:yT-len,stroke:'#000','stroke-width':lon%60===0?2:1.2},g);
    
    
    const tb = make('line',{x1:xOf(lon,i),x2:xOf(lon,i),y1:yB,y2:yB+len,stroke:'#000','stroke-width':lon%60===0?2:1.2},g);
    
    
  }
  yTickValues.forEach(function(v,k){
    const tl = make('line',{x1:x0,x2:x0-4,y1:yOf(v,i),y2:yOf(v,i),stroke:'#000','stroke-width':2},g);
    
    
    const tr = make('line',{x1:x1,x2:x1+4,y1:yOf(v,i),y2:yOf(v,i),stroke:'#000','stroke-width':2},g);
    
    
    if(i<4){
      const lab = make('text',{x:74,y:yOf(v,i)+12,'text-anchor':'end','font-size':35},g);
      
      
      lab.textContent = yTickLabels[k];
    }
  });
  if(i===3||i===7){
    xTickValues.forEach(function(v,k){
      const lab = make('text',{x:xOf(v,i)-(k===4||k===5?1:0),y:880,'text-anchor':'middle','font-size':34},g);
      
      
      lab.textContent = xTickLabels[k];
    });
  }

  const tx = make('text',{x:x0-(i<4?1:2),y:titleBaselines[i],'font-size':34.8},g);
  
  
  tx.textContent = title;
  if(i===0||i===4){
    const side = make('text',{x:x1+(i===0?1:-1),y:titleBaselines[i],'text-anchor':'end','font-size':34.8},g);
    
    
    side.textContent = i===0 ? 'Observed' : 'CFS Forecast';
  }
});

// ---------- colorbar ----------
const cbar = document.getElementById('colorbar');
const cbLeft = 229, cbTop = 939, cbCell = 604/colorbarLevels.length, cbH = 22;
colorbarLevels.forEach(function(v,k){
  const r = make('rect',{x:cbLeft+k*cbCell,y:cbTop,width:cbCell,height:cbH,fill:levelColors[k],stroke:'#000','stroke-width':1.5},cbar);
  
  
});
colorbarLabels.forEach(function(t,k){
  const lab = make('text',{x:cbLeft+(k+1)*cbCell+(t.length>1?1:0),y:990,'text-anchor':'middle','font-size':30},cbar);
  
  
  lab.textContent = t;
});
</script>
</body>
</html>
